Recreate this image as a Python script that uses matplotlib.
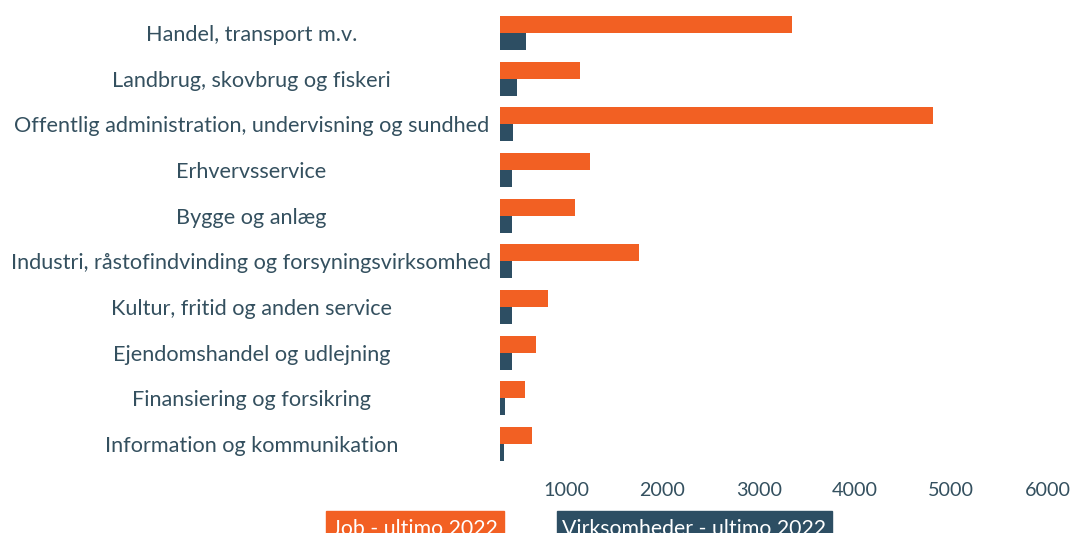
import matplotlib
matplotlib.use("Agg")
import matplotlib.pyplot as plt
import matplotlib.transforms as mtransforms
from matplotlib.patches import Rectangle
import numpy as np

# data
categories = [
    "Handel, transport m.v.",
    "Landbrug, skovbrug og fiskeri",
    "Offentlig administration, undervisning og sundhed",
    "Erhvervsservice",
    "Bygge og anlæg",
    "Industri, råstofindvinding og forsyningsvirksomhed",
    "Kultur, fritid og anden service",
    "Ejendomshandel og udlejning",
    "Finansiering og forsikring",
    "Information og kommunikation",
]
job_2022 = [3035, 830, 4500, 935, 780, 1445, 500, 375, 260, 332]
virksomheder_2022 = [270, 177, 135, 125, 125, 125, 125, 125, 52, 42]
xticks = [1000, 2000, 3000, 4000, 5000, 6000]
legend_labels = ["Job - ultimo 2022", "Virksomheder - ultimo 2022"]

ORANGE = "#F26023"
DARK = "#2D4E63"
TEXT = "#34505F"

plt.rcParams['font.family'] = ['Lato', 'DejaVu Sans']

W, H = 1073, 533
fig = plt.figure(figsize=(W / 100, H / 100), dpi=100)

# axes in pixel terms: bars start at x=500, rows from y=10 to 467
# (the right edge runs past the figure so the 6000 tick still exists)
left_px, right_px = 500, 1080
top_px, bottom_px = 10.2, 467
ax = fig.add_axes([left_px / W, 1 - bottom_px / H,
                   (right_px - left_px) / W, (bottom_px - top_px) / H])

px_per_unit = 96.25 / 1000

y = np.arange(len(categories))
h = 17 / 45.67
ax.barh(y - h / 2, job_2022, height=h, color=ORANGE, linewidth=0)
ax.barh(y + h / 2, virksomheder_2022, height=h, color=DARK, linewidth=0)

for s in ax.spines.values():
    s.set_visible(False)

ax.set_yticks(y)
ax.set_yticklabels(categories, ha="center", fontsize=15.6, color=TEXT)
ax.tick_params(axis="y", length=0, pad=179)

ax.set_xticks(xticks)
ax.set_xticklabels([str(t) for t in xticks], fontsize=14.2, color=TEXT)
ax.tick_params(axis="x", length=0, pad=11)
shift = mtransforms.ScaledTranslation(-0.30, 0, fig.dpi_scale_trans)
for lab in ax.get_xticklabels():
    lab.set_transform(lab.get_transform() + shift)

# limits after the ticks, otherwise set_xticks widens them
ax.set_xlim(0, (right_px - left_px) / px_per_unit)
ax.set_ylim(len(categories) - 0.5, -0.5)

# legend boxes, cut off at the bottom edge like the original
boxes = [(326, 504, ORANGE), (557, 832, DARK)]
for (x0, x1, c), txt in zip(boxes, legend_labels):
    fig.patches.append(Rectangle((x0 / W, 0), (x1 - x0) / W, (H - 511) / H,
                                 transform=fig.transFigure, color=c, zorder=1))
    fig.text((x0 + x1) / 2 / W, (H - 529) / H, txt, ha="center", va="center",
             color="white", fontsize=15.3, zorder=2)

fig.savefig("out.png", dpi=100)
